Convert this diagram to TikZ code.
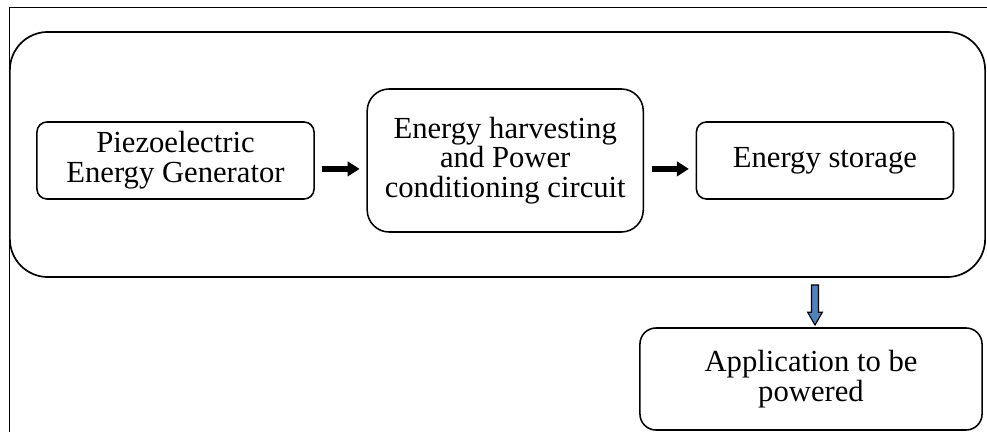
\documentclass[tikz,border=0pt]{standalone}
\usepackage{fontspec}
\setmainfont{Liberation Serif}
\usetikzlibrary{arrows.meta,positioning,shapes.arrows}
\definecolor{steelfill}{RGB}{79,129,189}

\begin{document}
\begin{tikzpicture}[
        x=0.025cm, y=-0.025cm,
        font=\fontsize{21.8}{21.2}\selectfont,
        node distance=1.29cm,
        box/.style={draw, line width=1.1pt, rounded corners=0.25cm, align=center,
            minimum height=1.925cm, inner sep=2pt},
        stagebox/.style={draw, line width=1.2pt, rounded corners=0.95cm,
            minimum width=24.375cm, minimum height=6.125cm},
        arrow/.style={-{Triangle[length=0.3cm, width=0.36cm]}, line width=0.15cm,
            shorten <=0.19cm, shorten >=0.17cm},
        downarrow/.style={single arrow, draw=black, line width=0.8pt, fill=steelfill,
            rotate=-90, inner sep=1.8pt, minimum height=1cm, minimum width=10.5pt,
            single arrow tip angle=60, single arrow head extend=2.5pt}
    ]
    \useasboundingbox (0,0) rectangle (987,432);
    \draw[line width=0.6pt] (9,432) -- (9,7) -- (987,7);

    \node[stagebox] (stage) at (497.5,154.5) {};
    \node[box, minimum width=6.925cm] (piezo) at (175.5,160.5)
    {Piezoelectric\\Energy Generator};
    \node[box, right=of piezo, minimum width=6.9cm, minimum height=3.575cm,
        rounded corners=0.55cm] (harvest)
    {Energy harvesting\\and Power\\conditioning circuit};
    \node[box, right=of harvest, minimum width=6.425cm] (storage) {Energy storage};
    \node[box, minimum width=8.55cm, minimum height=2.55cm, rounded corners=0.4cm]
    (app) at (811,379) {Application to be\\powered};

    \draw[arrow] ([yshift=-0.21cm]piezo.east) -- ([yshift=-0.21cm]piezo.east -| harvest.west);
    \draw[arrow] ([yshift=-0.21cm]storage.west -| harvest.east) -- ([yshift=-0.21cm]storage.west);
    \node[downarrow] (feed) at (815,302) {};
\end{tikzpicture}
\end{document}
